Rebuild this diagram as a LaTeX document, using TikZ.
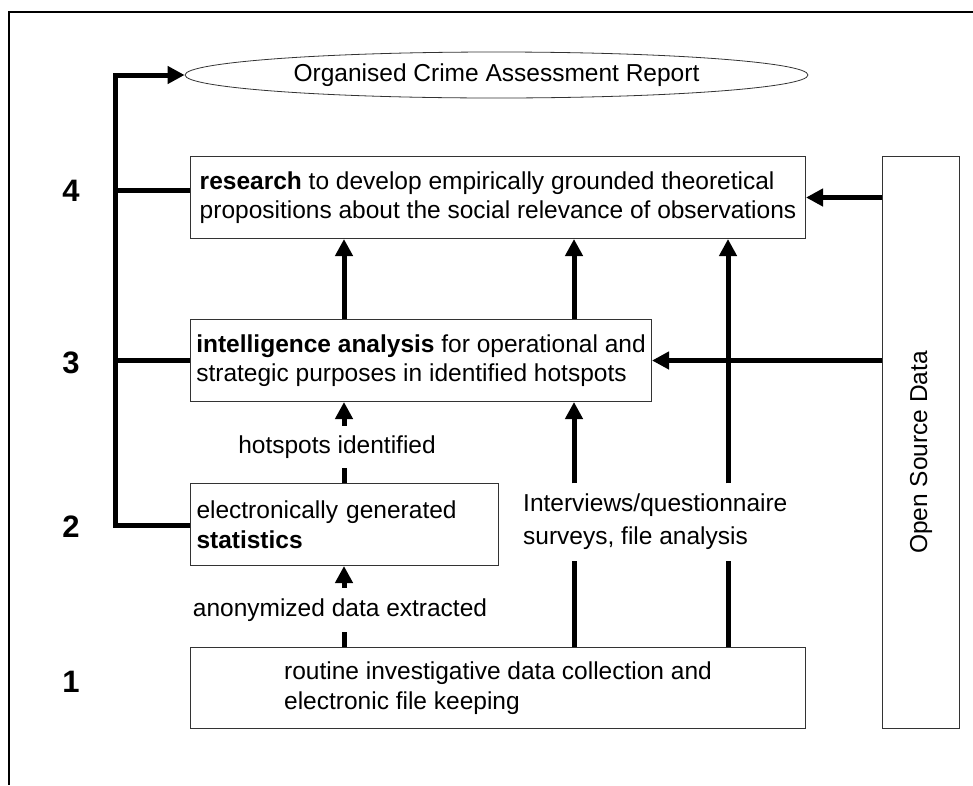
\documentclass[tikz,border=0pt]{standalone}
\usepackage{fontspec}
\setmainfont{Liberation Sans}
\usetikzlibrary{arrows.meta,shapes.geometric}
\begin{document}
\begin{tikzpicture}[x=1pt,y=-1pt,
  box/.style={draw=black!80, line width=1pt, inner sep=0pt, anchor=north west, align=left,
    font=\fontsize{24.5}{29.5}\selectfont},
  lbl/.style={inner sep=0pt, align=left, font=\fontsize{24.5}{33}\selectfont},
  conn/.style={line width=5pt},
  arr/.style={line width=5pt, -{Triangle[length=17pt,width=17pt]}},
  lvl/.style={font=\fontsize{31}{31}\selectfont\bfseries},
]
\useasboundingbox (0,0) rectangle (973,785);
\draw[line width=2pt] (973,12) -- (9,12) -- (9,785);

% nodes
\node[ellipse, draw=black!80, line width=0.8pt, minimum width=623, minimum height=46, inner sep=0pt,
  font=\fontsize{24.5}{29}\selectfont] (ocar) at (496.5,75) {Organised Crime Assessment Report};

\node[box, minimum width=615, minimum height=82] (research) at (190,156)
  {\textbf{research} to develop empirically grounded theoretical\\propositions about the social relevance of observations};
\node[box, minimum width=461, minimum height=82] (intel) at (190,319)
  {\textbf{intelligence analysis} for operational and\\strategic purposes in identified hotspots};
\node[box, minimum width=308, minimum height=82, text width=296, inner xsep=6pt] (stats) at (190,483)
  {electronically generated\\\textbf{statistics}};
\node[box, minimum width=615, minimum height=81] (routine) at (190,647)
  {routine investigative data collection and\\electronic file keeping};
\node[box, minimum width=77, minimum height=572] (osd) at (882,156) {};
\node[lbl, rotate=90] (osdtext) at ([yshift=-10pt]osd.center) {Open Source Data};

\node[lbl, minimum height=42] (hot) at (337,447) {hotspots identified};
\node[lbl, minimum height=44] (anon) at (340,610) {anonymized data extracted};
\node[lbl, minimum height=77, anchor=west] (intv) at (523,522)
  {Interviews/questionnaire\\surveys, file analysis};

\node[lvl] (l4) at (71,191) {4};
\node[lvl] (l3) at (71,363) {3};
\node[lvl] (l2) at (71,527) {2};
\node[lvl] (l1) at (71,682) {1};

% helper coordinates
\coordinate (b4) at (115,190);
\coordinate (b3) at (115,360);
\coordinate (b2) at (115,525);
\coordinate (btop) at (115,75);
\coordinate (xA) at (344,0);
\coordinate (xB) at (574,0);
\coordinate (xC) at (728,0);

% left bracket
\draw[conn] (research.west |- b4) -- (b4);
\draw[conn] (intel.west |- b3) -- (b3);
\draw[arr] (stats.west |- b2) -- (b2) -- (btop) -- (ocar.west);

% vertical connectors
\draw[arr] (intel.north -| xA) -- (research.south -| xA);
\draw[arr] (intel.north -| xB) -- (research.south -| xB);
\draw[conn] (stats.north -| xA) -- (hot.south -| xA);
\draw[arr] (hot.north -| xA) -- (intel.south -| xA);
\draw[conn] (routine.north -| xA) -- (anon.south -| xA);
\draw[arr] (anon.north -| xA) -- (stats.south -| xA);
\draw[conn] (routine.north -| xB) -- (intv.south -| xB);
\draw[arr] (intv.north -| xB) -- (intel.south -| xB);
\draw[conn] (routine.north -| xC) -- (intv.south -| xC);
\draw[arr] (intv.north -| xC) -- (research.south -| xC);

% open source arrows
\draw[arr] (osd.west |- research.east) -- (research.east);
\draw[arr] (osd.west |- intel.east) -- (intel.east);
\end{tikzpicture}
\end{document}
